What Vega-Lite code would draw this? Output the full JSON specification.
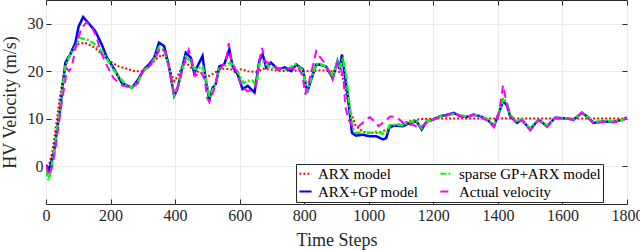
{
  "$schema": "https://vega.github.io/schema/vega-lite/v6.json",
  "width": 581,
  "height": 204,
  "autosize": {"type": "none"},
  "padding": {"left": 46, "top": 0, "right": 13, "bottom": 46},
  "background": "white",
  "config": {
    "view": {"stroke": "#262626", "strokeWidth": 1},
    "font": "Liberation Serif",
    "axis": {
      "labelFont": "Liberation Serif",
      "titleFont": "Liberation Serif",
      "labelFontSize": 16,
      "titleFontSize": 18,
      "titleFontWeight": "normal",
      "labelColor": "#262626",
      "titleColor": "#262626",
      "gridColor": "#ebebeb",
      "gridWidth": 1,
      "domain": false,
      "tickColor": "#262626",
      "tickSize": -5
    },
    "legend": {
      "orient": "none",
      "legendX": 250,
      "legendY": 164,
      "columns": 2,
      "title": null,
      "symbolType": "stroke",
      "symbolStrokeWidth": 2,
      "symbolSize": 150,
      "labelFont": "Liberation Serif",
      "labelFontSize": 15,
      "labelLimit": 400,
      "labelColor": "#000000",
      "fillColor": "white",
      "strokeColor": "#262626",
      "padding": 2,
      "rowPadding": 2,
      "columnPadding": 17,
      "labelOffset": 5
    }
  },
  "datasets": {
    "arx": [
      {"t":0,"v":0},{"t":10,"v":0.5},{"t":20,"v":3},{"t":30,"v":8},{"t":40,"v":13},{"t":50,"v":17.5},{"t":60,"v":21},{"t":70,"v":23},{"t":80,"v":24.2},{"t":100,"v":25.7},{"t":120,"v":26},{"t":150,"v":25},{"t":175,"v":23.5},{"t":200,"v":22},{"t":225,"v":21},{"t":250,"v":20.5},{"t":275,"v":20},{"t":300,"v":20},{"t":320,"v":21},{"t":340,"v":22.5},{"t":360,"v":23.5},{"t":375,"v":22.5},{"t":388,"v":19.5},{"t":398,"v":17.9},{"t":412,"v":19.5},{"t":430,"v":22.1},{"t":454,"v":20.4},{"t":480,"v":19.6},{"t":506,"v":19},{"t":531,"v":20},{"t":550,"v":20.5},{"t":573,"v":20.4},{"t":590,"v":19.6},{"t":604,"v":20.4},{"t":625,"v":20},{"t":650,"v":19.8},{"t":675,"v":20.5},{"t":700,"v":20.3},{"t":730,"v":20},{"t":760,"v":20.2},{"t":790,"v":20},{"t":820,"v":20},{"t":850,"v":20.2},{"t":880,"v":20},{"t":905,"v":20},{"t":915,"v":19.5},{"t":924,"v":17.5},{"t":934,"v":14},{"t":945,"v":11.2},{"t":960,"v":8.4},{"t":981,"v":7.3},{"t":1000,"v":7},{"t":1028,"v":7},{"t":1045,"v":7.4},{"t":1065,"v":8},{"t":1085,"v":8.6},{"t":1106,"v":9.1},{"t":1130,"v":9.5},{"t":1158,"v":9.9},{"t":1200,"v":10},{"t":1300,"v":10},{"t":1400,"v":10},{"t":1500,"v":10},{"t":1600,"v":10},{"t":1700,"v":10},{"t":1800,"v":10}
    ],
    "arxgp": [
      {"t":0,"v":0},{"t":8,"v":-1},{"t":15,"v":0.5},{"t":25,"v":3},{"t":35,"v":8},{"t":44,"v":12},{"t":52,"v":17},{"t":60,"v":21.8},{"t":75,"v":23.5},{"t":91,"v":26},{"t":101,"v":29.4},{"t":115,"v":31.4},{"t":132,"v":30.1},{"t":153,"v":28.4},{"t":173,"v":25.6},{"t":189,"v":22.8},{"t":209,"v":20.7},{"t":235,"v":17.5},{"t":266,"v":16.5},{"t":282,"v":17.9},{"t":304,"v":20.4},{"t":320,"v":21.5},{"t":335,"v":22.8},{"t":350,"v":26},{"t":366,"v":25.3},{"t":381,"v":21},{"t":397,"v":14.8},{"t":407,"v":16.2},{"t":423,"v":21},{"t":433,"v":23.9},{"t":449,"v":22.8},{"t":459,"v":19.6},{"t":469,"v":21},{"t":485,"v":23.2},{"t":495,"v":18},{"t":506,"v":14},{"t":516,"v":16.5},{"t":526,"v":17.3},{"t":537,"v":21},{"t":552,"v":21.4},{"t":568,"v":24.6},{"t":578,"v":21},{"t":594,"v":19.3},{"t":609,"v":16.2},{"t":625,"v":16.9},{"t":646,"v":15.5},{"t":661,"v":22.2},{"t":671,"v":23.6},{"t":682,"v":20.8},{"t":697,"v":21.8},{"t":718,"v":20.4},{"t":739,"v":20.8},{"t":760,"v":20},{"t":775,"v":21.4},{"t":796,"v":20.4},{"t":809,"v":15.5},{"t":822,"v":18.3},{"t":837,"v":21.4},{"t":846,"v":21.4},{"t":867,"v":21},{"t":888,"v":18.6},{"t":903,"v":22.1},{"t":910,"v":20.4},{"t":917,"v":23.5},{"t":924,"v":20},{"t":934,"v":15.4},{"t":942,"v":10.5},{"t":948,"v":7},{"t":960,"v":6.4},{"t":981,"v":6.6},{"t":1002,"v":6.3},{"t":1023,"v":6.3},{"t":1044,"v":5.6},{"t":1054,"v":5.9},{"t":1065,"v":8.4},{"t":1085,"v":8.5},{"t":1106,"v":8.4},{"t":1127,"v":9.1},{"t":1148,"v":9.4},{"t":1164,"v":7.7},{"t":1179,"v":9.4},{"t":1200,"v":9.8},{"t":1221,"v":10.5},{"t":1242,"v":10.8},{"t":1263,"v":11.2},{"t":1283,"v":10.5},{"t":1304,"v":10.4},{"t":1325,"v":10.8},{"t":1346,"v":10.5},{"t":1367,"v":9.8},{"t":1388,"v":8.4},{"t":1403,"v":11.2},{"t":1417,"v":13.8},{"t":1429,"v":12.6},{"t":1438,"v":10.5},{"t":1459,"v":9.1},{"t":1474,"v":9.8},{"t":1500,"v":7.7},{"t":1526,"v":9.8},{"t":1552,"v":8.4},{"t":1578,"v":10.2},{"t":1614,"v":10},{"t":1635,"v":9.8},{"t":1660,"v":11.2},{"t":1676,"v":10.5},{"t":1696,"v":9.1},{"t":1727,"v":9.4},{"t":1758,"v":9.3},{"t":1789,"v":9.8},{"t":1800,"v":10.3}
    ],
    "sparse": [
      {"t":0,"v":-1},{"t":8,"v":-3},{"t":15,"v":-1},{"t":25,"v":3},{"t":35,"v":8},{"t":44,"v":12},{"t":52,"v":17},{"t":60,"v":21},{"t":75,"v":23.5},{"t":90,"v":25},{"t":106,"v":27},{"t":130,"v":26.6},{"t":147,"v":25.9},{"t":178,"v":23.8},{"t":209,"v":20.3},{"t":246,"v":17.2},{"t":266,"v":16.5},{"t":282,"v":17.5},{"t":304,"v":20.2},{"t":320,"v":21},{"t":335,"v":22.5},{"t":350,"v":25},{"t":366,"v":24.5},{"t":381,"v":21},{"t":397,"v":15},{"t":407,"v":16.5},{"t":423,"v":20.5},{"t":433,"v":23},{"t":449,"v":22},{"t":459,"v":20.5},{"t":469,"v":20.5},{"t":485,"v":21},{"t":495,"v":18.5},{"t":506,"v":14.5},{"t":516,"v":16},{"t":526,"v":17.5},{"t":537,"v":20.5},{"t":552,"v":21},{"t":571,"v":21.8},{"t":581,"v":21},{"t":597,"v":19.5},{"t":612,"v":17.5},{"t":625,"v":18},{"t":640,"v":18},{"t":652,"v":17},{"t":661,"v":21.5},{"t":674,"v":22},{"t":690,"v":21},{"t":715,"v":20.6},{"t":746,"v":20.3},{"t":772,"v":21.4},{"t":796,"v":20.2},{"t":809,"v":15.8},{"t":822,"v":18.5},{"t":837,"v":21.5},{"t":850,"v":21.5},{"t":867,"v":21},{"t":888,"v":19},{"t":903,"v":22},{"t":910,"v":21},{"t":920,"v":22.5},{"t":930,"v":19},{"t":940,"v":13},{"t":950,"v":8},{"t":960,"v":7},{"t":981,"v":7},{"t":1002,"v":7},{"t":1023,"v":7.2},{"t":1044,"v":6.8},{"t":1054,"v":7},{"t":1065,"v":8.6},{"t":1085,"v":8.7},{"t":1106,"v":8.6},{"t":1127,"v":9.3},{"t":1148,"v":9.5},{"t":1164,"v":8},{"t":1179,"v":9.4},{"t":1200,"v":9.8},{"t":1221,"v":10.4},{"t":1242,"v":10.7},{"t":1263,"v":11},{"t":1283,"v":10.7},{"t":1304,"v":10.4},{"t":1325,"v":10.9},{"t":1346,"v":10.5},{"t":1367,"v":9.9},{"t":1388,"v":8.6},{"t":1403,"v":11.3},{"t":1417,"v":14.3},{"t":1429,"v":13},{"t":1438,"v":10.8},{"t":1459,"v":9.3},{"t":1474,"v":9.9},{"t":1500,"v":7.9},{"t":1526,"v":9.8},{"t":1552,"v":8.5},{"t":1578,"v":10.1},{"t":1614,"v":10},{"t":1635,"v":9.9},{"t":1660,"v":11.1},{"t":1676,"v":10.5},{"t":1696,"v":9.3},{"t":1727,"v":9.5},{"t":1758,"v":9.4},{"t":1789,"v":9.8},{"t":1800,"v":10.2}
    ],
    "actual": [
      {"t":0,"v":0},{"t":10,"v":-2},{"t":20,"v":0},{"t":30,"v":4},{"t":40,"v":9},{"t":50,"v":14},{"t":60,"v":18},{"t":65,"v":20.5},{"t":72,"v":20},{"t":80,"v":21},{"t":95,"v":26},{"t":110,"v":29},{"t":125,"v":30.3},{"t":140,"v":29.5},{"t":155,"v":27.5},{"t":170,"v":24},{"t":190,"v":21},{"t":210,"v":18.5},{"t":235,"v":17},{"t":266,"v":16.5},{"t":285,"v":17.5},{"t":300,"v":20},{"t":320,"v":21},{"t":340,"v":23},{"t":355,"v":25},{"t":370,"v":24},{"t":382,"v":20.5},{"t":397,"v":15},{"t":410,"v":17},{"t":425,"v":21},{"t":442,"v":24.5},{"t":452,"v":22},{"t":462,"v":19},{"t":480,"v":20},{"t":492,"v":18},{"t":499,"v":14.4},{"t":506,"v":13.5},{"t":520,"v":16},{"t":535,"v":20},{"t":545,"v":21},{"t":557,"v":22},{"t":566,"v":25.9},{"t":575,"v":22},{"t":590,"v":20},{"t":605,"v":17},{"t":623,"v":15.8},{"t":640,"v":16},{"t":650,"v":17},{"t":660,"v":22},{"t":669,"v":24.9},{"t":680,"v":22},{"t":700,"v":21.5},{"t":720,"v":20.5},{"t":740,"v":20.5},{"t":760,"v":20.5},{"t":780,"v":21},{"t":795,"v":19},{"t":803,"v":15.1},{"t":815,"v":18},{"t":830,"v":22},{"t":837,"v":24.2},{"t":846,"v":23.2},{"t":867,"v":21.4},{"t":888,"v":18.2},{"t":903,"v":21.8},{"t":912,"v":21},{"t":922,"v":18.2},{"t":927,"v":12.6},{"t":937,"v":9.8},{"t":950,"v":8.4},{"t":963,"v":8.1},{"t":981,"v":9.1},{"t":1003,"v":10.3},{"t":1018,"v":9.4},{"t":1030,"v":8.4},{"t":1049,"v":9.4},{"t":1067,"v":10.5},{"t":1087,"v":10.2},{"t":1108,"v":9.1},{"t":1117,"v":8.7},{"t":1137,"v":8.7},{"t":1158,"v":8},{"t":1179,"v":9.1},{"t":1200,"v":9.8},{"t":1221,"v":10.3},{"t":1242,"v":10.6},{"t":1263,"v":11.3},{"t":1283,"v":10.6},{"t":1304,"v":10.2},{"t":1325,"v":10.9},{"t":1346,"v":10.3},{"t":1367,"v":9.6},{"t":1388,"v":8.2},{"t":1403,"v":11},{"t":1416,"v":17},{"t":1425,"v":14},{"t":1438,"v":10.6},{"t":1459,"v":9},{"t":1474,"v":9.7},{"t":1500,"v":7.5},{"t":1526,"v":9.7},{"t":1552,"v":8.2},{"t":1578,"v":10.1},{"t":1614,"v":10},{"t":1635,"v":9.7},{"t":1660,"v":11.3},{"t":1676,"v":10.4},{"t":1696,"v":9},{"t":1727,"v":9.3},{"t":1758,"v":9.2},{"t":1789,"v":9.7},{"t":1800,"v":10.2}
    ]
  },
  "resolve": {"axis": {"x": "independent", "y": "independent"}},
  "layer": [
    {
      "data": {"name": "arx"},
      "mark": {"type": "line", "strokeWidth": 2, "clip": true},
      "encoding": {
        "x": {
          "field": "t", "type": "quantitative",
          "scale": {"domain": [0, 1800], "nice": false, "zero": false},
          "axis": {"title": "Time Steps", "values": [0,200,400,600,800,1000,1200,1400,1600,1800], "format": "d", "labelFont": "Liberation Serif", "titleFont": "Liberation Serif", "labelFontSize": 16, "labelPadding": 8, "titlePadding": 8, "labelFlush": false}
        },
        "y": {
          "field": "v", "type": "quantitative",
          "scale": {"domain": [-8, 35], "nice": false, "zero": false},
          "axis": {"title": "HV Velocity (m/s)", "values": [0,10,20,30], "format": "d", "labelFont": "Liberation Serif", "titleFont": "Liberation Serif", "labelFontSize": 16, "labelPadding": 8, "titlePadding": 8}
        },
        "color": {"datum": "ARX model", "type": "nominal",
          "scale": {"domain": ["ARX model", "ARX+GP model", "sparse GP+ARX model", "Actual velocity"], "range": ["#ff0000", "#0000ff", "#00ff00", "#ff00ff"]},
          "legend": {"labelFont": "Liberation Serif", "labelFontSize": 15, "labelLimit": 400, "labelExpr": "datum.label == 'sparse GP+ARX model' ? datum.label + '\u00a0\u00a0\u00a0\u00a0\u00a0\u00a0\u00a0\u00a0\u00a0' : datum.label"}},
        "strokeDash": {"datum": "ARX model", "type": "nominal",
          "scale": {"domain": ["ARX model", "ARX+GP model", "sparse GP+ARX model", "Actual velocity"], "range": [[2,2],[1,0],[6,2,2,2],[8,5]]},
          "legend": {"labelFont": "Liberation Serif", "labelFontSize": 15, "labelLimit": 400, "labelExpr": "datum.label == 'sparse GP+ARX model' ? datum.label + '\u00a0\u00a0\u00a0\u00a0\u00a0\u00a0\u00a0\u00a0\u00a0' : datum.label"}}
      }
    },
    {
      "data": {"name": "arxgp"},
      "mark": {"type": "line", "strokeWidth": 2.5, "clip": true},
      "encoding": {
        "x": {"field": "t", "type": "quantitative", "axis": null},
        "y": {"field": "v", "type": "quantitative", "axis": null},
        "color": {"datum": "ARX+GP model", "type": "nominal"},
        "strokeDash": {"datum": "ARX+GP model", "type": "nominal"}
      }
    },
    {
      "data": {"name": "sparse"},
      "mark": {"type": "line", "strokeWidth": 2.5, "clip": true},
      "encoding": {
        "x": {"field": "t", "type": "quantitative", "axis": null},
        "y": {"field": "v", "type": "quantitative", "axis": null},
        "color": {"datum": "sparse GP+ARX model", "type": "nominal"},
        "strokeDash": {"datum": "sparse GP+ARX model", "type": "nominal"}
      }
    },
    {
      "data": {"name": "actual"},
      "mark": {"type": "line", "strokeWidth": 2, "clip": true},
      "encoding": {
        "x": {"field": "t", "type": "quantitative", "axis": {"orient": "top", "values": [0,200,400,600,800,1000,1200,1400,1600,1800], "labels": false, "title": null, "grid": false}},
        "y": {"field": "v", "type": "quantitative", "axis": {"orient": "right", "values": [0,10,20,30], "labels": false, "title": null, "grid": false}},
        "color": {"datum": "Actual velocity", "type": "nominal"},
        "strokeDash": {"datum": "Actual velocity", "type": "nominal"}
      }
    }
  ]
}
